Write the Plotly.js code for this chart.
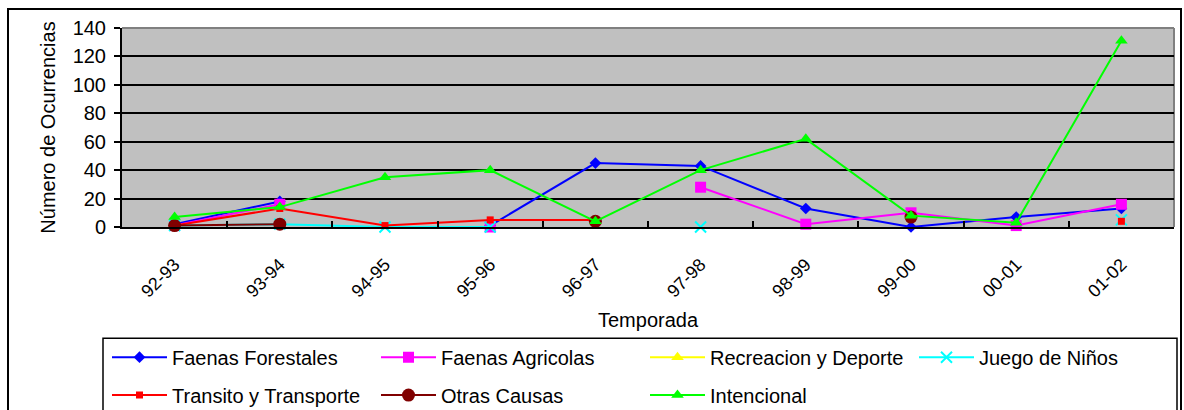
<!DOCTYPE html>
<html>
<head>
<meta charset="utf-8">
<script src="https://cdn.plot.ly/plotly-3.0.1.min.js"></script>
<style>html,body{margin:0;padding:0;background:#fff;}#chart{width:1184px;height:410px;}</style>
</head>
<body>
<div id="chart"></div>
<script>
const temporadas = ["92-93","93-94","94-95","95-96","96-97","97-98","98-99","99-00","00-01","01-02"];
const faenasForestales   = [2, 18, null, 1, 45, 43, 13, 0, 7, 13];
const faenasAgricolas    = [1, 16, null, 0, null, 28, 2, 10, 1, 16];
const recreacionDeporte  = [null, null, null, null, null, null, null, null, null, null];
const juegoNinos         = [1, 2, 0, 0, null, 0, null, null, null, 5];
const transitoTransporte = [1, 13, 1, 5, 5, null, null, null, null, 4];
const otrasCausas        = [1, 2, null, null, 4, null, null, 7, null, null];
const intencional        = [7, 14, 35, 40, 4, 40, 62, 8, 3, 131];

const yTicks = [0, 20, 40, 60, 80, 100, 120, 140];

const FONT = "Liberation Sans, Arial, sans-serif";

function tr(name, y, color, symbol, size, legend, extra) {
  return Object.assign({
    type: "scatter", mode: "lines+markers", name: name,
    x: temporadas, y: y, legend: legend,
    line: {color: color, width: 2},
    marker: {color: color, symbol: symbol, size: size},
    connectgaps: false, cliponaxis: false
  }, extra || {});
}

const data = [
  tr("Faenas Forestales", faenasForestales, "#0000ff", "diamond", 9, "legend"),
  tr("Faenas Agricolas", faenasAgricolas, "#ff00ff", "square", 11, "legend"),
  tr("Recreacion y Deporte", recreacionDeporte, "#ffff00", "triangle-up", 11, "legend"),
  tr("Juego de Niños", juegoNinos, "#00ffff", "x-thin-open", 11, "legend",
     {marker: {color: "#00ffff", symbol: "x-thin-open", size: 11, line: {color: "#00ffff", width: 2}}}),
  tr("Transito y Transporte", transitoTransporte, "#ff0000", "square", 7, "legend2"),
  tr("Otras Causas", otrasCausas, "#800000", "circle", 13, "legend2"),
  tr("Intencional", intencional, "#00ff00", "triangle-up", 11, "legend2")
];

const px2x = p => (p - 122) / 1052;
const py2y = p => (227.5 - p) / 199.5;

const legendCommon = {
  orientation: "h", xanchor: "left", yanchor: "middle",
  font: {family: FONT, size: 20, color: "#000"},
  bgcolor: "rgba(0,0,0,0)", borderwidth: 0,
  entrywidth: 199, entrywidthmode: "pixels", itemwidth: 55,
  traceorder: "normal"
};

const layout = {
  width: 1184, height: 410,
  margin: {l: 122, r: 10, t: 28, b: 182.5, pad: 0, autoexpand: false},
  paper_bgcolor: "#ffffff", plot_bgcolor: "#c0c0c0",
  font: {family: FONT, size: 20, color: "#000"},
  showlegend: true,
  xaxis: {
    type: "category", categoryorder: "array", categoryarray: temporadas,
    range: [-0.5, 9.5], showgrid: false, zeroline: false,
    showline: true, linecolor: "#000", linewidth: 2,
    ticks: "inside", tickson: "boundaries", ticklen: 6, tickwidth: 2, tickcolor: "#000",
    tickangle: -45, ticklabelstandoff: 18,
    tickfont: {family: FONT, size: 18, color: "#000"},
    title: {text: "Temporada", font: {family: FONT, size: 20, color: "#000"}, standoff: 13}
  },
  yaxis: {
    range: [0, 140], tickvals: yTicks, ticktext: yTicks.map(String),
    showgrid: true, gridcolor: "#000", gridwidth: 2, zeroline: false,
    showline: true, linecolor: "#000", linewidth: 2,
    ticks: "outside", ticklen: 6, tickwidth: 2, tickcolor: "#000",
    ticklabelstandoff: 4,
    tickfont: {family: FONT, size: 20, color: "#000"},
    title: {text: "Número de Ocurrencias", font: {family: FONT, size: 20, color: "#000"}, standoff: 12}
  },
  legend: Object.assign({x: px2x(107), y: py2y(358)}, legendCommon),
  legend2: Object.assign({x: px2x(107), y: py2y(396)}, legendCommon),
  shapes: [
    {type: "rect", xref: "paper", yref: "paper", x0: px2x(8), x1: px2x(1181), y0: py2y(440), y1: py2y(9),
     line: {color: "#000", width: 2}, fillcolor: "rgba(0,0,0,0)", layer: "below"},
    {type: "rect", xref: "paper", yref: "paper", x0: px2x(103), x1: px2x(1177), y0: py2y(440), y1: py2y(339),
     line: {color: "#000", width: 1.5}, fillcolor: "rgba(0,0,0,0)", layer: "below"},
    {type: "line", xref: "paper", yref: "paper", x0: 0, x1: 1, y0: 1, y1: 1,
     line: {color: "#808080", width: 2}, layer: "below"},
    {type: "line", xref: "paper", yref: "paper", x0: 1, x1: 1, y0: 0, y1: 1,
     line: {color: "#808080", width: 2}, layer: "below"}
  ]
};

Plotly.newPlot("chart", data, layout, {displayModeBar: false, staticPlot: true});
</script>
</body>
</html>
